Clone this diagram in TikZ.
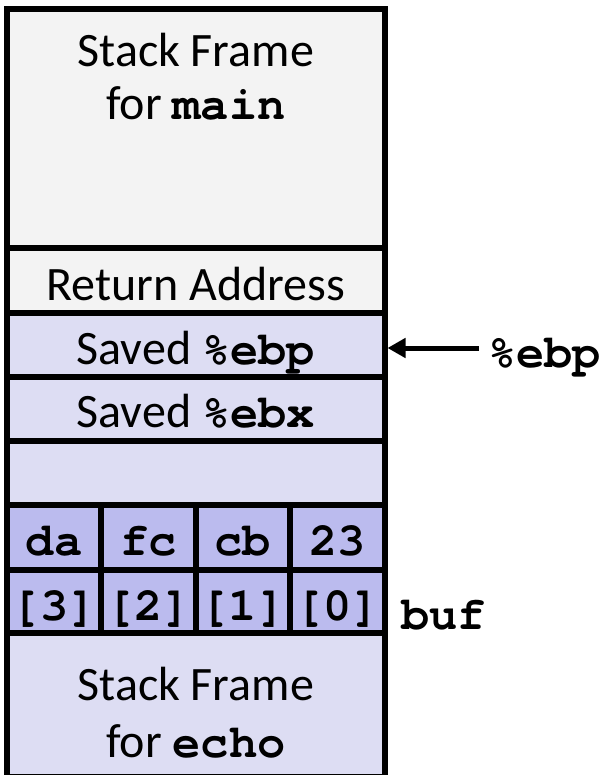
\documentclass[tikz,border=0pt]{standalone}
\usepackage{fontspec}
\setmainfont{Carlito}
\newfontfamily\courfont{TeX Gyre Cursor}
\usetikzlibrary{arrows.meta}
\definecolor{framegray}{HTML}{F3F3F3}
\definecolor{lavlight}{HTML}{DDDDF3}
\definecolor{lavdark}{HTML}{BBBBEE}
\newcommand{\cc}[1]{{\fontsize{47}{55}\courfont\bfseries #1}}
\tikzset{
  rowbox/.style={draw=black, line width=6pt, inner sep=0pt, rectangle,
    minimum width=377.5pt},
  bytebox/.style={draw=black, line width=6pt, inner sep=0pt, rectangle,
    fill=lavdark, minimum width=94.375pt},
  txt/.style={anchor=base, inner sep=0pt, font=\fontsize{48}{55}\selectfont},
  txtw/.style={anchor=base west, inner sep=0pt, font=\fontsize{48}{55}\selectfont},
  ptr/.style={line width=5pt, -{Triangle[length=18pt,width=19pt]}}
}
\begin{document}
\begin{tikzpicture}[x=1pt,y=-1pt]
\useasboundingbox (0,0) rectangle (609,775);
\clip (0,0) rectangle (609,775);
% rows
\node[rowbox, fill=framegray, minimum height=239.5pt] (mainf) at (195.75,128.75) {};
\node[rowbox, fill=framegray, minimum height=64.5pt] (ret) at (195.75,280.75) {};
\node[rowbox, fill=lavlight, minimum height=64pt] (sebp) at (195.75,345) {};
\node[rowbox, fill=lavlight, minimum height=63.5pt] (sebx) at (195.75,408.75) {};
\node[rowbox, fill=lavlight, minimum height=64.5pt] (empty) at (195.75,472.75) {};
\node[rowbox, fill=lavlight, minimum height=144.5pt] (echof) at (195.75,704.75) {};
% byte cells
\foreach \i/\v/\n in {0/da/3,1/fc/2,2/cb/1,3/23/0}{
  \node[bytebox, minimum height=64.5pt] (v\i) at ({7+94.375*(\i+0.5)},537.25) {};
  \node[bytebox, minimum height=63pt] (b\i) at ({7+94.375*(\i+0.5)},601) {};
  \node[txt] (tv\i) at ({7+94.375*(\i+0.5)},555) {\cc{\v}};
  \node[txt] (tb\i) at ({7+94.375*(\i+0.5)},620) {\cc{[\n]}};
}
% texts
\node[txt] (m1) at (195.75,67) {Stack Frame};
\node[txt] (m2) at (195.75,120) {for \cc{main}};
\node[txt] (rt) at (195.75,300) {Return Address};
\node[txt] (pt) at (195.75,364) {Saved \cc{\%ebp}};
\node[txt] (xt) at (195.75,427) {Saved \cc{\%ebx}};
\node[txt] (e1) at (195.75,700) {Stack Frame};
\node[txt] (e2) at (195.75,757) {for \cc{echo}};
\node[txtw] (buf) at (401,629) {\cc{buf}};
\node[txtw] (ebpreg) at (488,367) {\cc{\%ebp}};
% pointer
\coordinate (arrstart) at (479,348);
\draw[ptr] (arrstart) -- (sebp.east |- arrstart);
\end{tikzpicture}
\end{document}
